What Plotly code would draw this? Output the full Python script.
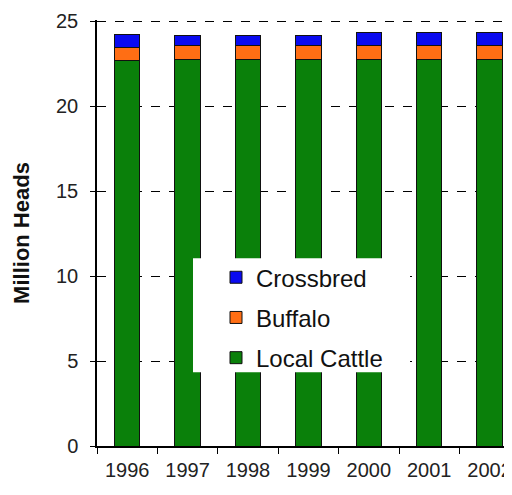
import plotly.graph_objects as go

years = ["1996", "1997", "1998", "1999", "2000", "2001", "2002"]
local_cattle = [22.65, 22.75, 22.75, 22.75, 22.75, 22.75, 22.75]
buffalo = [0.78, 0.82, 0.82, 0.82, 0.82, 0.82, 0.82]
crossbred = [0.79, 0.6, 0.6, 0.6, 0.76, 0.76, 0.76]

# page has an 8px body margin; figure sized to fit inside the window
OFF = 8
W, H = 504, 487
L, R, T = 97 - OFF, 0, 20 - OFF
B = H - (445.7 - OFF)
pw, ph = W - L - R, H - T - B

def px(x):  # page pixel -> paper x
    return (x - OFF - L) / pw

def py(y):  # page pixel -> paper y
    return (H - B - (y - OFF)) / ph

fig = go.Figure()
series = [
    ("Local Cattle", local_cattle, "#0a800a", 3),
    ("Buffalo", buffalo, "#ff6e14", 2),
    ("Crossbred", crossbred, "#0a0af0", 1),
]
for name, vals, col, rank in series:
    fig.add_trace(go.Bar(
        x=years, y=vals, name=name, legendgroup=name, legendrank=rank,
        marker=dict(color=col, line=dict(color="#111111", width=1)),
        width=0.42,
    ))

fig.add_shape(type="rect", xref="paper", yref="paper",
              x0=px(193), x1=px(410), y0=py(372), y1=py(258),
              fillcolor="white", line=dict(width=0), layer="above")

fig.update_layout(
    width=W, height=H,
    margin=dict(l=L, r=R, t=T, b=B),
    barmode="stack",
    plot_bgcolor="white", paper_bgcolor="white",
    font=dict(family="Liberation Sans, Arial, sans-serif", color="#222222"),
    showlegend=True,
    legend=dict(
        x=px(216), y=py(255), xanchor="left", yanchor="top",
        traceorder="grouped", tracegroupgap=6,
        bgcolor="rgba(0,0,0,0)", borderwidth=0,
        font=dict(size=24, family="Liberation Sans, Arial, sans-serif", color="#111111"),
    ),
    xaxis=dict(
        type="category", range=[-0.5, -0.5 + pw / 60.4], automargin=False,
        showline=True, linecolor="black", linewidth=1.5,
        ticks="outside", ticklen=6, tickcolor="black", tickson="boundaries",
        showgrid=False, tickfont=dict(size=20), ticklabelstandoff=5,
    ),
    yaxis=dict(
        range=[0, 25.06], tickvals=[0, 5, 10, 15, 20, 25], automargin=False,
        showline=True, linecolor="black", linewidth=1.5,
        ticks="outside", ticklen=5, tickcolor="black",
        showgrid=True, gridcolor="black", griddash="dash", gridwidth=1,
        zeroline=False, tickfont=dict(size=20), ticklabelstandoff=8,
        title=dict(text="<b>Million Heads</b>", font=dict(size=22, color="#111111"), standoff=20),
    ),
)

fig.write_html("out.html")
